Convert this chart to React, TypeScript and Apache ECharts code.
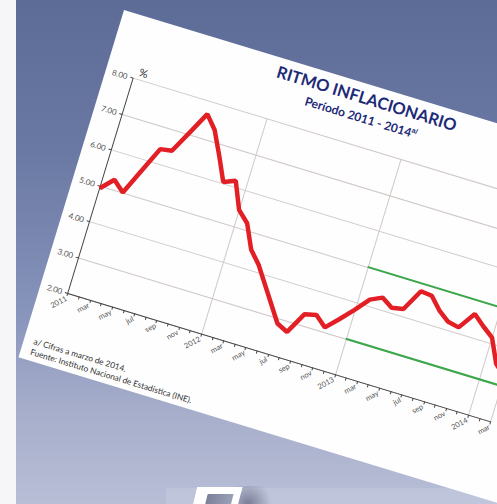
import React, { useEffect, useRef } from "react";
import * as echarts from "echarts";

// ---- data ----
const months = [
  "2011", "feb", "mar", "abr", "may", "jun", "jul", "ago", "sep", "oct", "nov", "dic",
  "2012", "feb", "mar", "abr", "may", "jun", "jul", "ago", "sep", "oct", "nov", "dic",
  "2013", "feb", "mar", "abr", "may", "jun", "jul", "ago", "sep", "oct", "nov", "dic",
  "2014", "feb", "mar",
];
const inflation = [
  4.93, 5.26, 5.0, 5.7, 6.4, 6.45, 7.05, 7.66, 7.31, 6.7, 6.05, 6.18,
  5.46, 5.18, 4.53, 4.2, 3.75, 3.3, 2.85, 2.71, 3.3, 3.37, 3.12, 3.45,
  3.8, 4.18, 4.33, 4.14, 4.2, 4.79, 4.76, 4.44, 4.22, 4.16, 4.63, 4.38,
  4.16, 3.52, 3.25,
];
const targetBand = [3, 5];
const targetStart = "2013";
const yTicks = [2, 3, 4, 5, 6, 7, 8];

const FONT = "Lato, 'Open Sans', sans-serif";

export default function App() {
  const ref = useRef<HTMLDivElement>(null);

  useEffect(() => {
    const chart = echarts.init(ref.current!, null, { renderer: "svg" });
    const startIdx = months.indexOf(targetStart);
    const lastIdx = months.length - 1;
    chart.setOption({
      animation: false,
      backgroundColor: "transparent",
      grid: { left: 28.6, top: 62.7, width: 442, height: 224.5 },
      xAxis: {
        type: "category",
        data: months,
        boundaryGap: false,
        axisLine: { lineStyle: { color: "#444", width: 1 } },
        axisTick: { show: true, interval: 0, length: 3, lineStyle: { color: "#444" } },
        axisLabel: {
          interval: 1,
          rotate: 45,
          fontSize: 7.5,
          color: "#555",
          margin: 5,
          fontFamily: FONT,
        },
        splitLine: {
          show: true,
          interval: (i: number, v: string) => (i > 0 && /^20/.test(v)) || i === lastIdx,
          lineStyle: { color: "#cfc8c6", width: 1 },
        },
      },
      yAxis: {
        type: "value",
        min: yTicks[0],
        max: yTicks[yTicks.length - 1],
        interval: 1,
        name: "%",
        nameLocation: "end",
        nameGap: 3,
        nameTextStyle: { fontSize: 11, color: "#333", align: "left", fontFamily: FONT, padding: [0, 0, 0, 4] },
        axisLine: { show: true, lineStyle: { color: "#444", width: 1 } },
        axisTick: { show: true, length: 3, lineStyle: { color: "#444" } },
        axisLabel: {
          formatter: (v: number) => v.toFixed(2),
          fontSize: 8,
          color: "#555",
          margin: 6,
          fontFamily: FONT,
        },
        splitLine: { show: true, lineStyle: { color: "#cfc8c6", width: 1 } },
      },
      graphic: [
        {
          type: "text",
          x: 258,
          y: 14,
          style: {
            text: "RITMO INFLACIONARIO",
            font: `bold 16.5px ${FONT}`,
            fill: "#1d2a78",
            textAlign: "center",
            textVerticalAlign: "middle",
          },
        },
        {
          type: "text",
          x: 258,
          y: 34,
          style: {
            text: "Período 2011 - 2014{sup|a/}",
            font: `bold 12px ${FONT}`,
            fill: "#1d2a78",
            textAlign: "center",
            textVerticalAlign: "middle",
            rich: {
              sup: { fontSize: 7, fontWeight: "bold", fill: "#1d2a78", verticalAlign: "top", padding: [0, 0, 6, 0] },
            },
          },
        },
        {
          type: "text",
          x: 10,
          y: 343,
          style: {
            text: "a/ Cifras a marzo de 2014.",
            font: `8.3px ${FONT}`,
            fill: "#333",
            textVerticalAlign: "middle",
          },
        },
        {
          type: "text",
          x: 10,
          y: 354,
          style: {
            text: "Fuente: Instituto Nacional de Estadística (INE).",
            font: `8.3px ${FONT}`,
            fill: "#333",
            textVerticalAlign: "middle",
          },
        },
      ],
      series: [
        {
          type: "line",
          data: inflation,
          symbol: "none",
          lineStyle: { color: "#e31f26", width: 4.5 },
          z: 5,
          markLine: {
            silent: true,
            symbol: "none",
            label: { show: false },
            lineStyle: { color: "#3aa84a", width: 2, type: "solid" },
            data: targetBand.map((b) => [
              { coord: [startIdx, b] },
              { coord: [lastIdx, b] },
            ]),
          },
        },
      ],
    });
    return () => chart.dispose();
  }, []);

  return (
    <div
      style={{
        position: "fixed",
        left: 0,
        top: 0,
        width: 497,
        height: 504,
        overflow: "hidden",
        background: "linear-gradient(to bottom, #5d6b97 0%, #6a79a3 30%, #8592ba 60%, #a7aecb 82%, #b8bed6 100%)",
      }}
    >
      <div style={{ position: "absolute", left: 0, top: 0, width: 16, height: 504, background: "#f6f6f9" }} />
      <div
        style={{
          position: "absolute",
          left: 166,
          top: 488,
          width: 340,
          height: 20,
          background: "rgba(255,255,255,0.12)",
        }}
      />
      <div
        style={{
          position: "absolute",
          left: 236,
          top: 486,
          width: 40,
          height: 30,
          background: "radial-gradient(circle at 30% 60%, rgba(90,95,120,0.7), rgba(90,95,120,0) 70%)",
        }}
      />
      <div
        style={{
          position: "absolute",
          left: 194,
          top: 487,
          width: 26,
          height: 20,
          borderTop: "7px solid #fff",
          borderLeft: "12px solid #fff",
          borderRight: "7px solid #fff",
          background: "linear-gradient(to right, #7c8198, #9aa0b8)",
          transform: "skewX(-14deg)",
        }}
      />
      <div
        style={{
          position: "absolute",
          left: 124,
          top: 10,
          width: 560,
          height: 363,
          background: "#fefefe",
          transform: "rotate(16.9deg)",
          transformOrigin: "0 0",
        }}
      >
        <div ref={ref} style={{ width: 560, height: 363 }} />
      </div>
    </div>
  );
}
